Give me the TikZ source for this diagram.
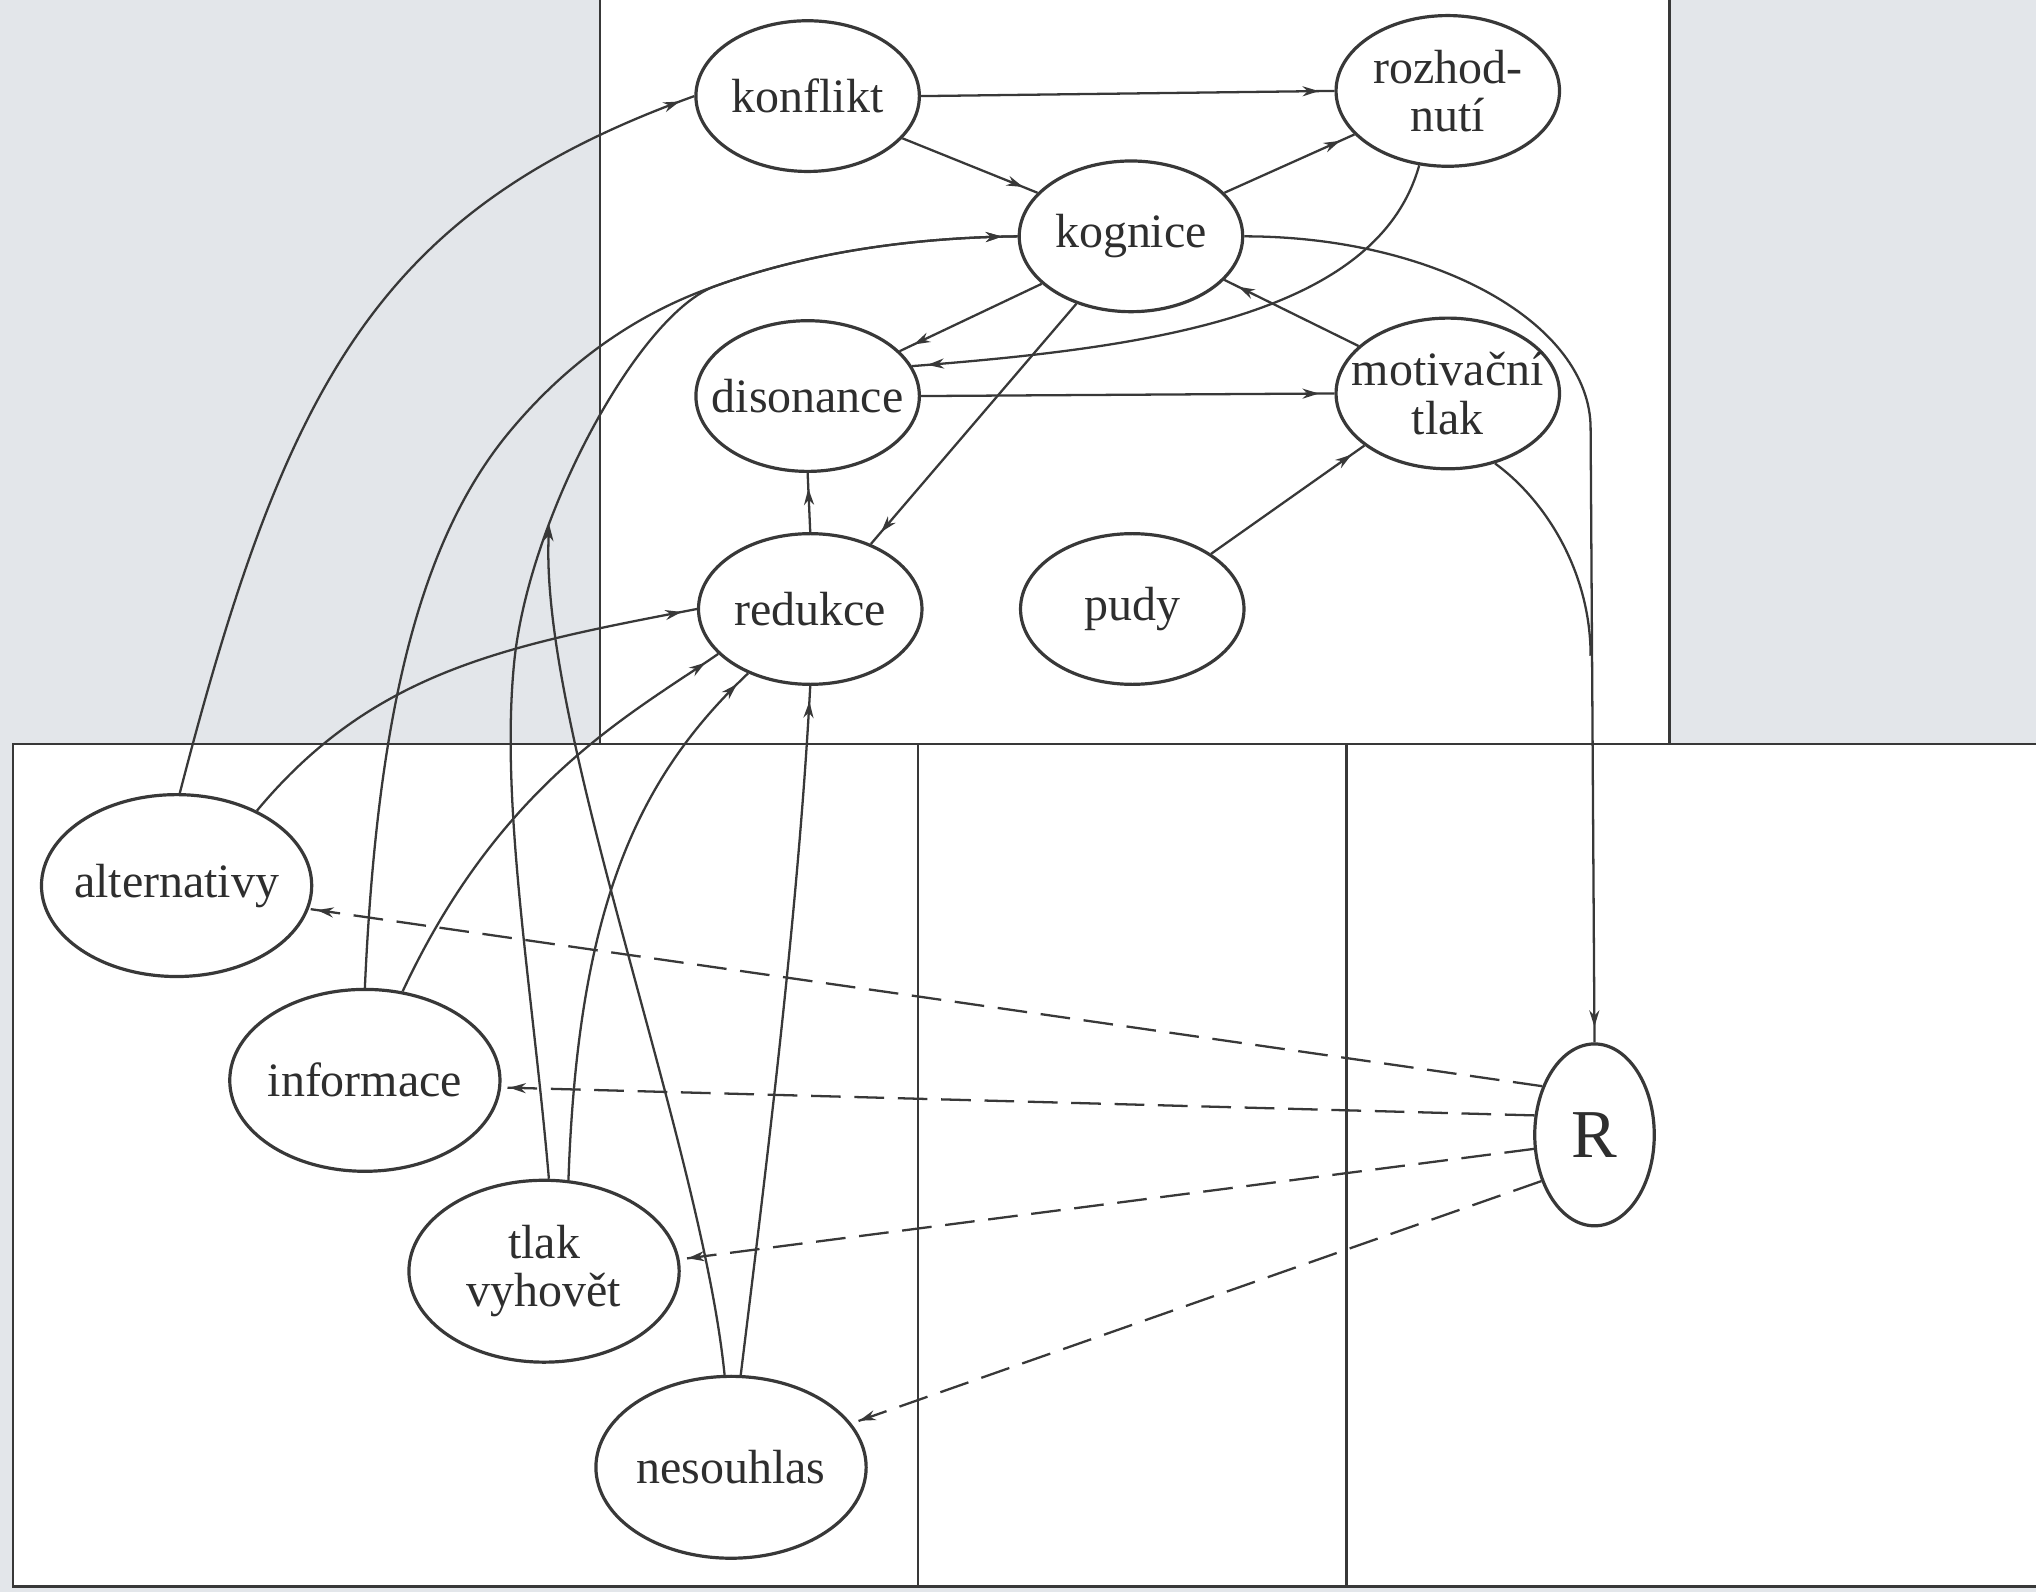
\documentclass[tikz,border=0pt]{standalone}
\usepackage{fontspec}
\setmainfont{Liberation Serif}
\usetikzlibrary{shapes.geometric,arrows.meta,decorations.markings}
\definecolor{bg}{HTML}{E3E6EA}
\definecolor{ink}{HTML}{383838}
\definecolor{txt}{HTML}{2E2E2E}
\newcommand{\zb}[1]{\makebox[0pt][c]{#1}}
\tikzset{
  nd/.style={ellipse, draw=ink, line width=0.7pt, inner sep=0pt,
    minimum width=1.72cm, minimum height=1.16cm, text=txt,
    font=\fontsize{10.5}{10.6}\selectfont, align=center},
  nb/.style={nd, minimum width=2.08cm, minimum height=1.40cm},
  con/.style={color=ink, line width=0.5pt},
  arr/.style={con, postaction={decorate},
    decoration={markings, mark=at position -3.4pt with {\arrow{Stealth[length=3.6pt,width=2.2pt]}}}},
  dsh/.style={con, dash pattern=on 6.5pt off 3pt, postaction={decorate},
    decoration={markings, mark=at position -1.8pt with {\arrow{Stealth[length=3.6pt,width=2.2pt]}}}},
  boxl/.style={draw=ink, line width=0.6pt}
}
\begin{document}
\begin{tikzpicture}[x=0.01cm,y=-0.01cm]
\useasboundingbox (0,0) rectangle (1568,1226);
\fill[bg] (0,0) rectangle (1568,1226);
\fill[white] (462,0) rectangle (1286,573);
\fill[white] (10,573) rectangle (1568,1222);
\draw[boxl] (462,0) -- (462,573);
\draw[boxl] (1286,0) -- (1286,573);
\draw[boxl] (1568,573) -- (10,573) -- (10,1222) -- (1568,1222);
\draw[boxl] (707,573) -- (707,1222);
\draw[boxl] (1037,573) -- (1037,1222);

% nodes
\node[nd] (konf) at (622,74) {\zb{konflikt}};
\node[nd] (rozh) at (1115,70) {\zb{rozhod-}\\\zb{nutí}};
\node[nd] (kog) at (871,182) {\zb{kognice}};
\node[nd] (dis) at (622,305) {\zb{disonance}};
\node[nd] (mot) at (1115,303) {\zb{motivační}\\\zb{tlak}};
\node[nd] (red) at (624,469) {\zb{redukce}};
\node[nd] (pud) at (872,469) {\zb{pudy}};
\node[nb] (alt) at (136,682) {\zb{alternativy}};
\node[nb] (inf) at (281,832) {\zb{informace}};
\node[nb] (tlk) at (419,979) {\zb{tlak}\\\zb{vyhovět}};
\node[nb] (nes) at (563,1130) {\zb{nesouhlas}};
\node[nd, minimum width=0.92cm, minimum height=1.40cm, font=\fontsize{15}{15}\selectfont] (R) at (1228,874) {\zb{R}};

\coordinate (mg) at (1225,505);
\coordinate (M) at (549,221);
\coordinate (q) at (423,404);

% top connectors
\draw[arr] (konf.east) -- (rozh.west);
\draw[arr] (konf.-24) -- (kog.155);
\draw[arr] (kog.25) -- (rozh.205);
\draw[arr] (kog.208) -- (dis.26);
\draw[arr] (rozh.249) .. controls (1060,245) and (880,268) .. (dis.16);
\draw[arr] (kog.231) -- (red.47);
\draw[arr] (mot.152) -- (kog.-25);
\draw[arr] (dis.east) -- (mot.west);
\draw[arr] (red.north) -- (dis.south);
\draw[arr] (pud.35) -- (mot.212);
\draw[arr] (kog.east) .. controls (1105,182) and (1225,249) .. (1225,330) -- (R.north);
\draw[con] (mot.-56) .. controls (1190,385) and (1225,440) .. (mg);

% left connectors
\draw[arr] (alt.88) .. controls (221,292) and (293,161) .. (konf.west);
\draw[arr] (alt.43) .. controls (288,516) and (391,497) .. (red.west);
\draw[arr] (inf.north) .. controls (290,560) and (320,420) .. (392,333)
   .. controls (440,275) and (495,240) .. (M)
   .. controls (620,195) and (700,183) .. (kog.west);
\draw[arr] (tlk.87) .. controls (410,760) and (385,620) .. (396,510)
   .. controls (407,400) and (490,245) .. (M)
   .. controls (620,195) and (700,183) .. (kog.west);
\draw[con,-{Stealth[length=3.6pt,width=2.2pt]}] (nes.94) .. controls (540,880) and (415,560) .. (q);
\draw[arr] (inf.67) .. controls (386,601) and (488,549) .. (red.206);
\draw[arr] (tlk.75) .. controls (445,700) and (490,600) .. (red.226);
\draw[arr] (nes.84) .. controls (590,900) and (615,700) .. (red.south);

% dashed connectors
\draw[dsh] (R.137) -- (alt.-10);
\draw[dsh] (R.162) -- (inf.-3);
\draw[dsh] (R.193) -- (tlk.5);
\draw[dsh] (R.221) -- (nes.20);
\end{tikzpicture}
\end{document}
